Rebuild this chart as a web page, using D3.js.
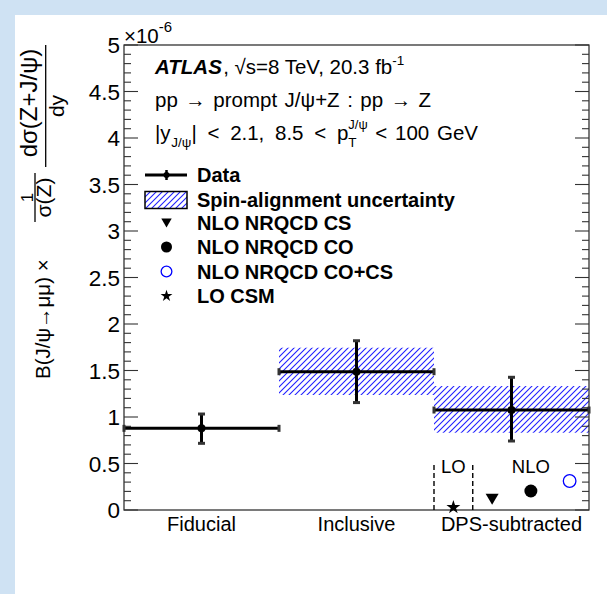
<!DOCTYPE html>
<html><head><meta charset="utf-8">
<script src="https://cdn.jsdelivr.net/npm/d3@7"></script>
<style>
html,body{margin:0;padding:0;background:#fff}
svg{display:block}
text{font-family:"Liberation Sans",Arial,Helvetica,sans-serif;white-space:pre;fill:#000}
</style>
</head><body><svg id="c" width="607" height="594"></svg>
<script>
// ---------------- data ----------------
const categories = ["Fiducial", "Inclusive", "DPS-subtracted"];
const dataValues = [0.878, 1.487, 1.075];
const dataErrLow = [0.717, 1.155, 0.742];
const dataErrHigh = [1.032, 1.820, 1.427];
const spinLow = [null, 1.237, 0.831];
const spinHigh = [null, 1.745, 1.333];
const theoryNames = ["LO CSM", "NLO NRQCD CS", "NLO NRQCD CO", "NLO NRQCD CO+CS"];
const theoryPos = [2.125, 2.375, 2.625, 2.875];
const theoryValues = [0.029, 0.115, 0.204, 0.312];
const loRegion = [2.0, 2.25];
const loRegionTop = 0.5;
const yTickValues = [0, 0.5, 1, 1.5, 2, 2.5, 3, 3.5, 4, 4.5, 5];
const yTickLabels = ["0", "0.5", "1", "1.5", "2", "2.5", "3", "3.5", "4", "4.5", "5"];
const legendLabels = ["Data", "Spin-alignment uncertainty", "NLO NRQCD CS", "NLO NRQCD CO", "NLO NRQCD CO+CS", "LO CSM"];

// ---------------- setup ----------------
const svg = d3.select("#c");
const W = 607, H = 594;
svg.append("rect").attr("width", W).attr("height", H).attr("fill", "#cfe2f3");
svg.append("rect").attr("x", 15).attr("y", 15).attr("width", W - 15).attr("height", H - 15).attr("fill", "#fff");

const x = d3.scaleLinear().domain([0, 3]).range([124, 589]);
const y = d3.scaleLinear().domain([0, 5]).range([510, 45]);

const defs = svg.append("defs");
const pat = defs.append("pattern").attr("id", "hatch").attr("patternUnits", "userSpaceOnUse")
  .attr("width", 6).attr("height", 6);
pat.append("path").attr("d", "M0,6 L6,0 M-1.5,1.5 L1.5,-1.5 M4.5,7.5 L7.5,4.5")
  .attr("stroke", "#2020ff").attr("stroke-width", 1.1);

// spin-alignment bands
categories.forEach((c, i) => {
  if (spinLow[i] === null) return;
  svg.append("rect").attr("x", x(i)).attr("width", x(i + 1) - x(i))
    .attr("y", y(spinHigh[i])).attr("height", y(spinLow[i]) - y(spinHigh[i]))
    .attr("fill", "url(#hatch)");
});

// frame and ticks
const frame = svg.append("g");
frame.append("rect").attr("x", x(0)).attr("y", y(5)).attr("width", x(3) - x(0)).attr("height", y(0) - y(5))
  .attr("fill", "none").attr("stroke", "#222").attr("stroke-width", 1.2);
const minor = d3.range(0, 51).map(d => d / 10);
minor.forEach(v => {
  const major = Math.abs(v * 2 - Math.round(v * 2)) < 1e-6;
  const len = major ? 14 : 7;
  frame.append("line").attr("x1", x(0)).attr("x2", x(0) + len).attr("y1", y(v)).attr("y2", y(v))
    .attr("stroke", "#333").attr("stroke-width", 1.1);
  frame.append("line").attr("x1", x(3)).attr("x2", x(3) - len).attr("y1", y(v)).attr("y2", y(v))
    .attr("stroke", "#333").attr("stroke-width", 1.1);
});
yTickValues.forEach((v, i) => {
  svg.append("text").attr("x", x(0) - 4).attr("y", y(v) + 8).attr("text-anchor", "end")
    .attr("font-size", 22.5).text(yTickLabels[i]);
});
// exponent
const ex = svg.append("text").attr("x", 124).attr("y", 43).attr("font-size", 20.5);
ex.append("tspan").text("×10");
ex.append("tspan").attr("font-size", 15).attr("dy", -11).text("-6");

// category labels
categories.forEach((c, i) => {
  svg.append("text").attr("x", x(i + 0.5)).attr("y", 531).attr("text-anchor", "middle")
    .attr("font-size", 20).text(c);
});

// data points
const dg = svg.append("g");
categories.forEach((c, i) => {
  const cx = x(i + 0.5), cy = y(dataValues[i]);
  dg.append("line").attr("x1", x(i)).attr("x2", x(i + 1)).attr("y1", cy).attr("y2", cy)
    .attr("stroke", "#000").attr("stroke-width", 3);
  dg.append("line").attr("x1", cx).attr("x2", cx).attr("y1", y(dataErrHigh[i])).attr("y2", y(dataErrLow[i]))
    .attr("stroke", "#000").attr("stroke-width", 3);
  [dataErrHigh[i], dataErrLow[i]].forEach(v => {
    dg.append("rect").attr("x", cx - 3.5).attr("y", y(v) - 1.5).attr("width", 7).attr("height", 3).attr("fill", "#333");
  });
  [x(i), x(i + 1)].forEach(px => {
    dg.append("rect").attr("x", px - 1.5).attr("y", cy - 3.5).attr("width", 3).attr("height", 7).attr("fill", "#333");
  });
  dg.append("circle").attr("cx", cx).attr("cy", cy).attr("r", 4).attr("fill", "#000");
});

// LO / NLO region
loRegion.forEach(v => {
  svg.append("line").attr("x1", x(v)).attr("x2", x(v)).attr("y1", y(0)).attr("y2", y(loRegionTop))
    .attr("stroke", "#000").attr("stroke-width", 1.4).attr("stroke-dasharray", "5,3");
});
svg.append("text").attr("x", x((loRegion[0] + loRegion[1]) / 2)).attr("y", 473).attr("text-anchor", "middle")
  .attr("font-size", 18.5).text("LO");
svg.append("text").attr("x", x(2.625)).attr("y", 473).attr("text-anchor", "middle")
  .attr("font-size", 18.5).text("NLO");

// markers
function marker(g, kind, cx, cy, s) {
  if (kind === "LO CSM") {
    g.append("path").attr("d", d3.symbol(d3.symbolStar, 60 * s * s)()).attr("transform", `translate(${cx},${cy})`).attr("fill", "#000");
  } else if (kind === "NLO NRQCD CS") {
    g.append("path").attr("d", `M${-6.5 * s},${-5.5 * s} L${6.5 * s},${-5.5 * s} L0,${5.5 * s} Z`).attr("transform", `translate(${cx},${cy})`).attr("fill", "#000");
  } else if (kind === "NLO NRQCD CO") {
    g.append("circle").attr("cx", cx).attr("cy", cy).attr("r", 6.5 * s).attr("fill", "#000");
  } else {
    g.append("circle").attr("cx", cx).attr("cy", cy).attr("r", 6.3 * s).attr("fill", "none").attr("stroke", "#0000ff").attr("stroke-width", 1.3);
  }
}
const tg = svg.append("g");
theoryNames.forEach((n, i) => marker(tg, n, x(theoryPos[i]), y(theoryValues[i]), 1));

// ---------------- text block ----------------
function rich(g, x0, y0, parts, base) {
  let cx = x0;
  parts.forEach(p => {
    if (p.stack) {
      let w = 0;
      p.stack.forEach(s => {
        const t = g.append("text").attr("x", cx).attr("y", y0 + s.dy).attr("font-size", s.size).text(s.t);
        w = Math.max(w, t.node().getComputedTextLength());
      });
      cx += w;
    } else {
      const t = g.append("text").attr("x", cx).attr("y", y0 + (p.dy || 0)).attr("font-size", p.size || base)
        .attr("font-weight", p.weight || null).attr("font-style", p.style || null)
        .style("word-spacing", p.ws ? p.ws + "px" : null).text(p.t);
      cx += t.node().getBBox().width;
    }
  });
}
const txt = svg.append("g");
rich(txt, 155, 74, [
  { t: "ATLAS", weight: "bold", style: "italic" },
  { t: ", √s=8 TeV, 20.3 fb" },
  { t: "-1", size: 13.5, dy: -9 }
], 20.5);
rich(txt, 155, 107, [{ t: "pp → prompt J/ψ+Z : pp → Z", ws: 1.8 }], 20.5);
rich(txt, 155, 140, [
  { t: "|y" },
  { t: "J/ψ", size: 13.5, dy: 7 },
  { t: "| < 2.1, 8.5 < p", ws: 5 },
  { stack: [{ t: "J/ψ", size: 13, dy: -11 }, { t: "T", size: 13.5, dy: 7 }] },
  { t: " < 100 GeV", ws: 2 }
], 20.5);

// ---------------- legend ----------------
const lg = svg.append("g");
const legY = [175, 199.5, 223, 247, 271.5, 296];
const legSX = 166.5;
legendLabels.forEach((l, i) => {
  lg.append("text").attr("x", 197).attr("y", legY[i] + 7).attr("font-size", 20).attr("font-weight", "bold").text(l);
});
lg.append("line").attr("x1", 145).attr("x2", 187).attr("y1", legY[0]).attr("y2", legY[0]).attr("stroke", "#000").attr("stroke-width", 3);
lg.append("line").attr("x1", legSX).attr("x2", legSX).attr("y1", legY[0] - 5).attr("y2", legY[0] + 5).attr("stroke", "#000").attr("stroke-width", 2.5);
lg.append("circle").attr("cx", legSX).attr("cy", legY[0]).attr("r", 3).attr("fill", "#000");
lg.append("rect").attr("x", 145).attr("y", 191.5).attr("width", 42).attr("height", 17)
  .attr("fill", "url(#hatch)").attr("stroke", "#000").attr("stroke-width", 1.5);
marker(lg, "NLO NRQCD CS", legSX, legY[2], 0.8);
marker(lg, "NLO NRQCD CO", legSX, legY[3], 0.85);
marker(lg, "NLO NRQCD CO+CS", legSX, legY[4], 0.85);
marker(lg, "LO CSM", legSX, legY[5], 0.85);

// ---------------- y title ----------------
function vtext(bx, cy, t, size, anchor) {
  svg.append("text").attr("transform", `translate(${bx},${cy}) rotate(-90)`).attr("text-anchor", anchor)
    .attr("font-size", size).text(t);
}
vtext(49.5, 379, "B(J/ψ→μμ) ×", 20.5, "start");
svg.append("line").attr("x1", 35).attr("x2", 35).attr("y1", 173).attr("y2", 222).attr("stroke", "#000").attr("stroke-width", 1.3);
vtext(32.5, 197.5, "1", 17, "middle");
vtext(50.5, 197.5, "σ(Z)", 21, "middle");
svg.append("line").attr("x1", 45.7).attr("x2", 45.7).attr("y1", 45).attr("y2", 167).attr("stroke", "#000").attr("stroke-width", 1.3);
vtext(37, 103, "dσ(Z+J/ψ)", 24, "middle");
vtext(64, 106, "dy", 21, "middle");
</script>
</body></html>
